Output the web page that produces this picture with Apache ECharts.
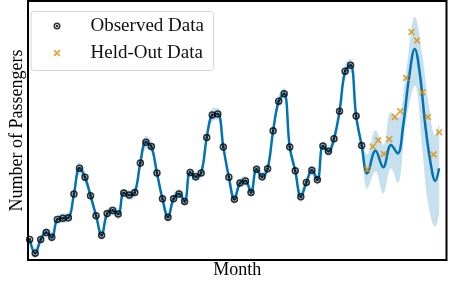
<!DOCTYPE html>
<html><head><meta charset="utf-8">
<script src="https://cdn.jsdelivr.net/npm/echarts@6/dist/echarts.min.js"></script>
<style>html,body{margin:0;padding:0;background:#fff}#c{width:450px;height:284px}</style>
</head><body><div id="c"></div>
<script>
// month index counted from Jan 1949
const obsStart = 69; // Oct 1954
const observed = [229,203,229,
  242,233,267,269,270,315,364,347,312,274,237,278,
  284,277,317,313,318,374,413,405,355,306,271,306,
  315,301,356,348,355,422,465,467,404,347,305,336,
  340,318,362,348,363,435,491,505,404,359,310,337,
  360,342,406,396,420,472,548,559,463,407];
const heldStart = 130; // Nov 1959
const heldOut = [362,405,417,391,419,461,472,535,622,606,508,461,390,432];
// predictive mean beyond the observed range (read at these month positions)
const forecastMonths = [130, 131.5, 132.9, 134.3, 135.5, 136.5, 137.5, 138.6, 139.5, 140.5, 141.5, 142.3, 143];
const forecastMean   = [354, 397,   366,   408,   392,   445,   531,   590,   544,   445,   371,   340,   364];
// spread of the posterior samples around the observed months 69..128
const spreadObs = [8,10,9,
  9,10,8,9,9,9,12,11,9,9,10,9,
  9,10,8,9,9,9,12,11,9,9,10,9,
  9,10,8,9,9,9,12,11,9,9,10,9,
  9,10,8,9,9,9,12,11,9,9,10,9,
  9,10,8,9,9,9,13,12,9];
// sample envelope in the forecast range
const bandMonths = [129, 130, 131.5, 132.9, 134.3, 135.5, 137, 138.6, 140, 141, 142.3, 143];
const bandLow    = [398, 325, 358,   316,   364,   336,   451, 521,   395, 297, 253,   279];
const bandHigh   = [416, 390, 436,   408,   470,   460,   544, 651,   575, 494, 427,   451];

const BLUE = '#0173b2', ORANGE = '#de8f05';
const FONT = 'Liberation Serif';

const obsData = observed.map((v, k) => [obsStart + k, v]);
const heldData = heldOut.map((v, k) => [heldStart + k, v]);
const meanData = obsData.concat(forecastMonths.map((m, k) => [m, forecastMean[k]]));
const lowData = spreadObs.map((s, k) => [obsStart + k, observed[k] - s])
  .concat(bandMonths.map((m, k) => [m, bandLow[k]]));
const highData = spreadObs.map((s, k) => [obsStart + k, observed[k] + s])
  .concat(bandMonths.map((m, k) => [m, bandHigh[k]]));

const obsSymbol = 'path://M-10,0A10,10 0 1,0 10,0A10,10 0 1,0 -10,0Z M-5.6,0A5.6,5.6 0 1,1 5.6,0A5.6,5.6 0 1,1 -5.6,0Z M-3.6,0A3.6,3.6 0 1,0 3.6,0A3.6,3.6 0 1,0 -3.6,0Z';
const xSymbol = 'path://M0,1.7L1.7,0L5,3.3L8.3,0L10,1.7L6.7,5L10,8.3L8.3,10L5,6.7L1.7,10L0,8.3L3.3,5Z';

const chart = echarts.init(document.getElementById('c'), null, {renderer: 'canvas'});
chart.setOption({
  animation: false,
  backgroundColor: '#fff',
  grid: {left: 21, right: 3.5, top: 1, bottom: 18, show: true, z: 10,
    borderColor: '#000', borderWidth: 2, backgroundColor: 'transparent'},
  xAxis: {type: 'value', min: 68.7, max: 144.33,
    axisLine: {show: false}, axisTick: {show: false}, axisLabel: {show: false}, splitLine: {show: false},
    name: 'Month', nameLocation: 'middle', nameGap: 1,
    nameTextStyle: {fontFamily: FONT, fontSize: 18, color: '#000'}},
  yAxis: {type: 'value', min: 190, max: 681,
    axisLine: {show: false}, axisTick: {show: false}, axisLabel: {show: false}, splitLine: {show: false},
    name: 'Number of Passengers', nameLocation: 'middle', nameGap: 2, nameRotate: 90,
    nameTextStyle: {fontFamily: FONT, fontSize: 18, color: '#000'}},
  graphic: [{type: 'rect', z: 20, left: 30.5, top: 11,
    shape: {width: 182.5, height: 59, r: 3},
    style: {fill: 'rgba(255,255,255,0.85)', stroke: '#d4d4d4', lineWidth: 1}}],
  legend: {z: 30, orient: 'vertical', left: 53.5, top: 16, padding: 0,
    itemWidth: 7, itemHeight: 7, itemGap: 7,
    data: ['Observed Data', 'Held-Out Data'],
    textStyle: {fontFamily: FONT, fontSize: 19, color: '#111', lineHeight: 20, padding: [0, 0, 0, 25]}},
  series: [
    {name: 'bandHigh', type: 'line', data: highData, smooth: 0.4, symbol: 'none',
      lineStyle: {width: 0, opacity: 0}, areaStyle: {color: 'rgba(1,115,178,0.22)', opacity: 1}, z: 1, silent: true},
    {name: 'bandLow', type: 'line', data: lowData, smooth: 0.4, symbol: 'none',
      lineStyle: {width: 0, opacity: 0}, areaStyle: {color: '#ffffff', opacity: 1}, z: 1, silent: true},
    {name: 'Mean', type: 'line', data: meanData, smooth: 0.4, symbol: 'none',
      lineStyle: {color: BLUE, width: 2.5}, z: 3},
    {name: 'Observed Data', type: 'scatter', data: obsData, symbol: obsSymbol, symbolSize: 7.5,
      itemStyle: {color: '#000'}, z: 4},
    {name: 'Held-Out Data', type: 'scatter', data: heldData, symbol: xSymbol, symbolSize: 7,
      itemStyle: {color: ORANGE}, z: 4}
  ]
});
</script></body></html>
